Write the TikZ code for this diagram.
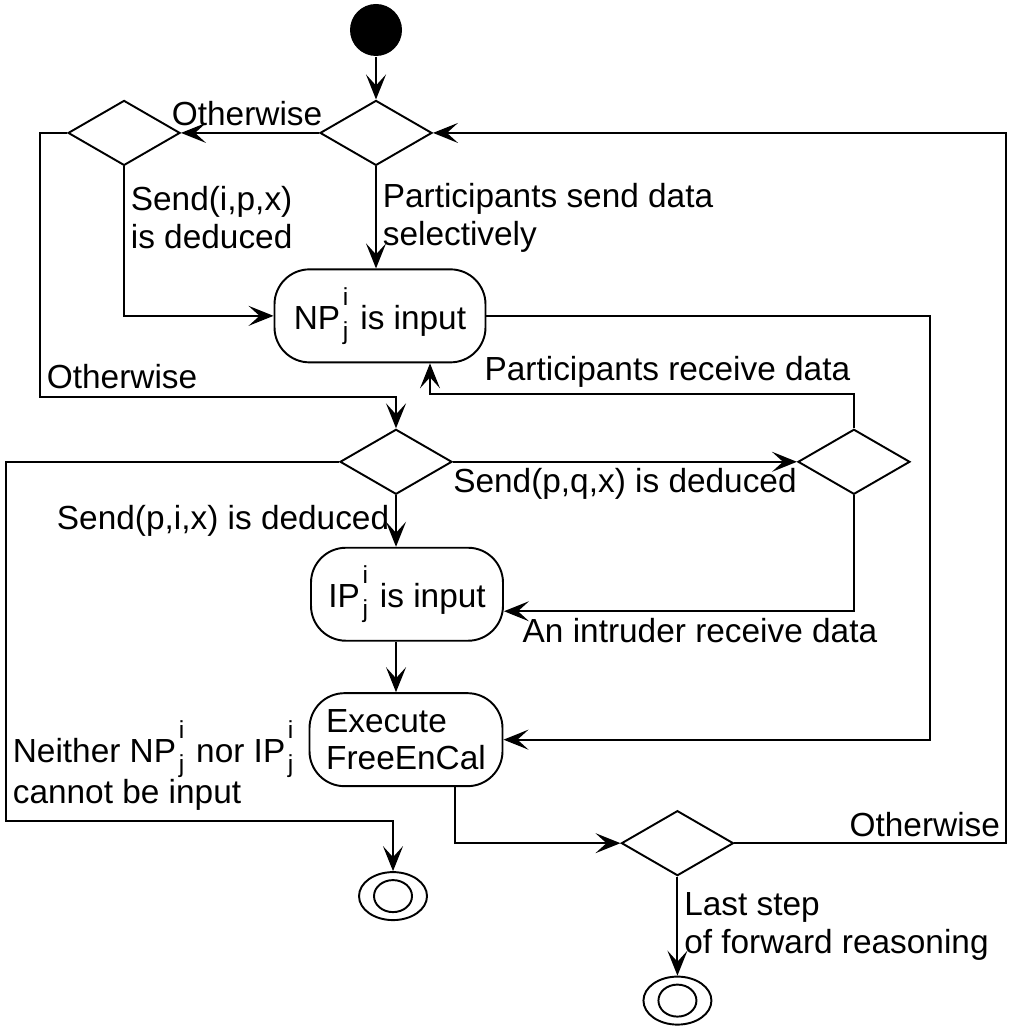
\documentclass[tikz,border=0pt]{standalone}
\usepackage{fontspec}
\setmainfont{Liberation Sans}
\usetikzlibrary{arrows.meta,positioning,shapes.geometric}

\newcommand{\idx}{\hspace{0.08em}\rlap{\raisebox{0.72em}{\fontsize{14}{14}\selectfont i}}\raisebox{-0.3em}{\fontsize{14}{14}\selectfont j}\hspace{0.08em}}

\begin{document}
\begin{tikzpicture}
  [line width=1.1pt,
  flow/.style={-{Stealth[length=0.5cm,width=0.4cm,inset=0.22cm]}},
  every node/.style={font=\fontsize{19}{21.6}\selectfont},
  initial/.style={circle,fill=black,minimum size=1.04cm,inner sep=0pt},
  choice/.style={diamond,draw,minimum width=2.24cm,minimum height=1.3cm,inner sep=0pt},
  activity/.style={rectangle,draw,rounded corners=0.7cm,minimum height=1.86cm},
  final/.style={ellipse,draw,minimum width=1.36cm,minimum height=0.96cm,inner sep=0pt,
    path picture={\draw (path picture bounding box.center) ellipse (0.38cm and 0.32cm);}}]

\useasboundingbox (0,0) rectangle (20.16,-20.68);

% activities and decisions
\node[initial] (start) at (7.52,-0.6) {};
\node[choice] (send-choice) [below=0.85cm of start] {};
\node[choice] (own-choice) [left=2.76cm of send-choice] {};
\node[activity,minimum width=4.22cm] (np-input) [below=2.04cm of send-choice,xshift=0.08cm] {NP\idx{} is input};
\node[choice] (recv-choice) [below=1.3cm of np-input,xshift=0.32cm] {};
\node[choice] (intr-choice) [right=6.88cm of recv-choice] {};
\node[activity,minimum width=3.84cm] (ip-input) [below=1.03cm of recv-choice,xshift=0.22cm] {IP\idx{} is input};
\node[activity,minimum width=3.86cm,align=left] (exec) [below=1.01cm of ip-input,xshift=-0.02cm] {Execute\\FreeEnCal};
\node[choice] (last-choice) [right=2.34cm of exec,yshift=-2.07cm] {};
\node[final] (stop) [below=1.68cm of exec,xshift=-0.26cm] {};
\node[final] (finish) [below=1.98cm of last-choice] {};

% sending
\draw [flow] (start) -- (send-choice);
\draw [flow] (send-choice) -- node [above,xshift=-0.06cm] {Otherwise} (own-choice);
\draw [flow] (own-choice) |- node [pos=0.17,right,align=left] {Send(i,p,x)\\is deduced} (np-input);
\draw [flow] (send-choice) -- node [right,align=left] {Participants send data\\selectively} (send-choice |- np-input.north);
\draw [flow] (own-choice.west) -- ++(-0.54,0) |- node [pos=0.5,above right,yshift=0.04cm] {Otherwise} ([yshift=0.62cm]recv-choice.north) -- (recv-choice);
\draw [flow] (np-input.east) -- ++(8.87,0) |- (exec);

% receiving
\draw [flow] (intr-choice.north) -- ++(0,0.69) -| node [pos=0.22,above] {Participants receive data} ([xshift=1cm]np-input.south);
\draw [flow] (recv-choice) -- node [below] {Send(p,q,x) is deduced} (intr-choice);
\draw [flow] (recv-choice) -- node [left] {Send(p,i,x) is deduced} (recv-choice |- ip-input.north);
\draw [flow] (intr-choice) |- node [pos=0.72,below] {An intruder receive data} ([yshift=-0.34cm]ip-input.east);
\draw [flow] (recv-choice |- ip-input.south) -- (recv-choice |- exec.north);
\draw [flow] (recv-choice.west) -- ++(-6.66,0) |- node [pos=0.5,above right,align=left,yshift=0.08cm] {Neither NP\idx{} nor IP\idx{}\\cannot be input} ([yshift=1cm]stop.north) -- (stop);

% reasoning loop
\draw [flow] ([xshift=0.98cm]exec.south) |- (last-choice);
\draw [flow] (last-choice.east) -- node [pos=0.7,above] {Otherwise} ++(5.44,0) |- (send-choice);
\draw [flow] (last-choice) -- node [right,align=left] {Last step\\of forward reasoning} (finish);

\end{tikzpicture}
\end{document}
